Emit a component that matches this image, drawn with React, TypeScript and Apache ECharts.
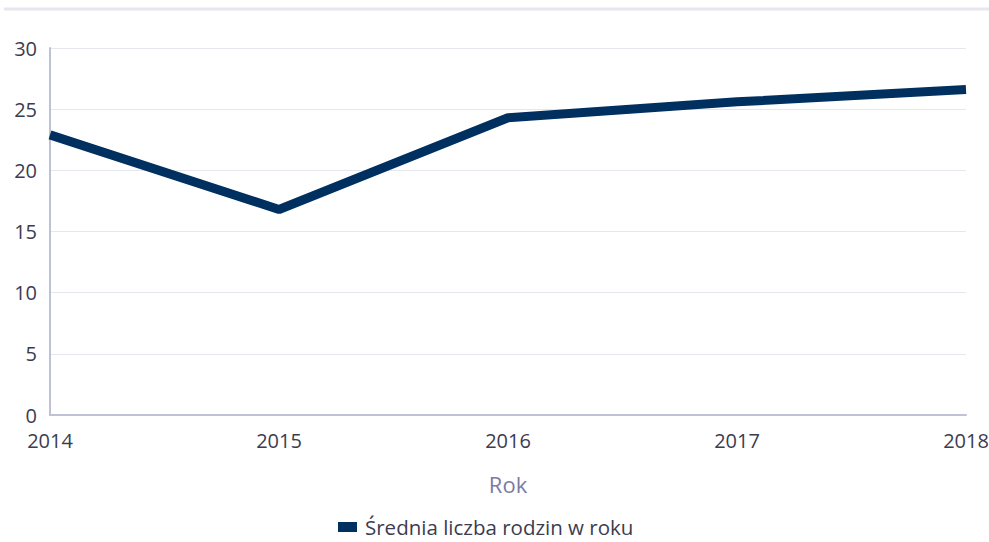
import React, { useEffect, useRef } from "react";
import * as echarts from "echarts";

const categories = ["2014", "2015", "2016", "2017", "2018"];
const values = [22.9, 16.8, 24.3, 25.6, 26.6];
const seriesName = "Średnia liczba rodzin w roku";
const axisName = "Rok";

export default function App() {
  const ref = useRef<HTMLDivElement>(null);
  useEffect(() => {
    if (!ref.current) return;
    const chart = echarts.init(ref.current, null, { renderer: "svg" });
    const font = "'Open Sans', 'Noto Sans', sans-serif";
    chart.setOption({
      animation: false,
      textStyle: { fontFamily: font },
      graphic: [
        {
          type: "line",
          shape: { x1: 4, y1: 9, x2: 989, y2: 9 },
          style: { stroke: "#e6e6f0", lineWidth: 3 },
        },
      ],
      grid: { left: 50, right: 23, top: 48, bottom: 127, containLabel: false, outerBoundsMode: "none" },
      legend: {
        bottom: 4,
        left: 333,
        padding: [0, 5, 0, 5],
        itemWidth: 19,
        itemHeight: 10,
        icon: "rect",
        textStyle: { color: "#3c3c50", fontSize: 20.5, lineHeight: 22, fontFamily: font, padding: [0, 0, 0, 3] },
        data: [seriesName],
      },
      xAxis: {
        type: "category",
        data: categories,
        boundaryGap: false,
        name: axisName,
        nameLocation: "middle",
        nameGap: 58,
        nameTextStyle: { color: "#7b7ba3", fontSize: 22, fontFamily: font },
        axisLine: { lineStyle: { color: "#bfc2d6", width: 2 } },
        axisTick: { show: false },
        axisLabel: { color: "#3c3c50", fontSize: 20, margin: 15, fontFamily: font },
        splitLine: { show: false },
      },
      yAxis: {
        type: "value",
        min: 0,
        max: 30,
        interval: 5,
        axisLine: { show: true, lineStyle: { color: "#bfc2d6", width: 2 } },
        axisTick: { show: false },
        axisLabel: { color: "#3c3c50", fontSize: 20, margin: 13, fontFamily: font },
        splitLine: { lineStyle: { color: "#e6e6ee", width: 1 } },
      },
      series: [
        {
          name: seriesName,
          type: "line",
          data: values,
          symbol: "none",
          lineStyle: { color: "#00305f", width: 9 },
          itemStyle: { color: "#00305f" },
        },
      ],
    });
    return () => chart.dispose();
  }, []);
  return <div ref={ref} style={{ width: 989, height: 542, position: "absolute", left: 0, top: 0 }} />;
}
